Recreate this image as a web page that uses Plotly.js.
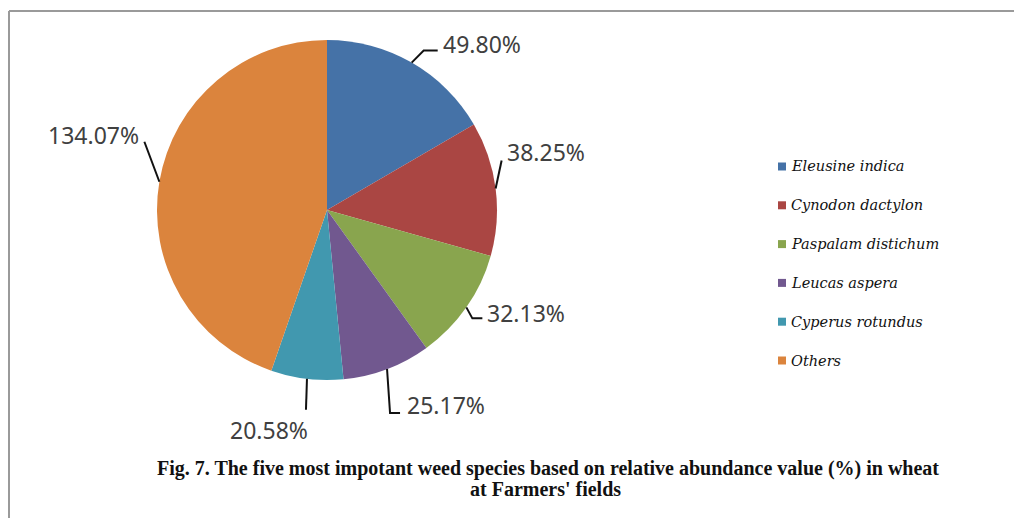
<!DOCTYPE html>
<html><head><meta charset="utf-8">
<script src="https://cdn.plot.ly/plotly-3.0.1.min.js"></script>
<style>html,body{margin:0;padding:0;background:#fff}#chart{width:1014px;height:518px}</style>
</head><body><div id="chart"></div>
<script>
// ---- data ----
const species = ['Eleusine indica','Cynodon dactylon','Paspalam distichum','Leucas aspera','Cyperus rotundus','Others'];
const abundance = [49.80, 38.25, 32.13, 25.17, 20.58, 134.07];
const sliceColors = ['#4572A7','#AA4643','#89A54E','#71588F','#4198AF','#DB843D'];
const captionLines = ['Fig. 7. The five most impotant weed species based on relative abundance value (%) in wheat', "at Farmers' fields"];

// ---- layout constants ----
const W = 1014, H = 518, CX = 327, CY = 210, R = 170;
const px = x => x / W, py = y => 1 - y / H;

// leader lines / label placement, offsets (px) from each slice's edge midpoint
const leader = [
  {pts: [[12,-12],[26,-12]], text: [29,-19], anchor: 'left'},
  {pts: [[6,-28]],           text: [9,-36],  anchor: 'left'},
  {pts: [[6,11],[16,11]],    text: [19,6],   anchor: 'left'},
  {pts: [[3,44],[13,44]],    text: [18,36],  anchor: 'left'},
  {pts: [[-1,31]],           text: [-38,51], anchor: 'center'},
  {pts: [[-15,-40]],         text: [-18,-47],anchor: 'right'}
];

const total = abundance.reduce((a,b)=>a+b,0);
let cum = 0;
const shapes = [];
const annotations = [];

abundance.forEach((v,i)=>{
  const mid = (cum + v/2) / total; cum += v;
  const th = mid * 2 * Math.PI;
  const ex = CX + R * Math.sin(th), ey = CY - R * Math.cos(th);
  const L = leader[i];
  let path = `M${px(ex)},${py(ey)}`;
  L.pts.forEach(p => { path += ` L${px(ex+p[0])},${py(ey+p[1])}`; });
  shapes.push({type:'path', xref:'paper', yref:'paper', path, line:{color:'#111', width:2}});
  annotations.push({
    xref:'paper', yref:'paper', x:px(ex+L.text[0]), y:py(ey+L.text[1]),
    xanchor:L.anchor, yanchor:'middle', showarrow:false,
    text: v.toFixed(2) + '%',
    font:{family:'Noto Sans, sans-serif', size:23, color:'#404040'}
  });
});

// legend (manual, to match spacing)
const LEGX = 778, LEGY = 166.5, LEGDY = 38.8;
species.forEach((s,i)=>{
  const yc = LEGY + i*LEGDY;
  shapes.push({type:'rect', xref:'paper', yref:'paper', x0:px(LEGX), x1:px(LEGX+8), y0:py(yc-4), y1:py(yc+4),
    fillcolor:sliceColors[i], line:{width:0}});
  annotations.push({xref:'paper', yref:'paper', x:px(LEGX+11), y:py(yc), xanchor:'left', yanchor:'middle',
    showarrow:false, text:s, font:{family:'DejaVu Serif, serif', size:14.5, style:'italic', color:'#111'}});
});

// caption second line
annotations.push({xref:'paper', yref:'paper', x:px(545), y:py(489), xanchor:'center', yanchor:'middle',
  showarrow:false, text:captionLines[1],
  font:{family:'Liberation Serif, serif', size:20, weight:700, color:'#111'}});

// frame (top and left edges visible)
shapes.push({type:'line', xref:'paper', yref:'paper', x0:px(9), y0:py(11), x1:px(W+5), y1:py(11), line:{color:'#9a9a9a', width:2}});
shapes.push({type:'line', xref:'paper', yref:'paper', x0:px(9), y0:py(11), x1:px(9), y1:py(H+5), line:{color:'#9a9a9a', width:2}});

const trace = {
  type:'pie', labels:species, values:abundance, sort:false, direction:'clockwise', rotation:0,
  marker:{colors:sliceColors, line:{width:0}}, textinfo:'none', hoverinfo:'label+value',
  showlegend:false,
  domain:{x:[px(CX-R), px(CX+R)], y:[py(CY+R), py(CY-R)]}
};

const layout = {
  width:W, height:H, margin:{l:0,r:0,t:0,b:0}, paper_bgcolor:'#fff', showlegend:false,
  title:{text:captionLines[0], x:px(548), xanchor:'center', xref:'paper',
    y:py(468), yref:'paper', yanchor:'middle',
    font:{family:'Liberation Serif, serif', size:20, weight:700, color:'#111'}},
  shapes, annotations
};
Plotly.newPlot('chart',[trace],layout,{displayModeBar:false, staticPlot:true});
</script></body></html>
